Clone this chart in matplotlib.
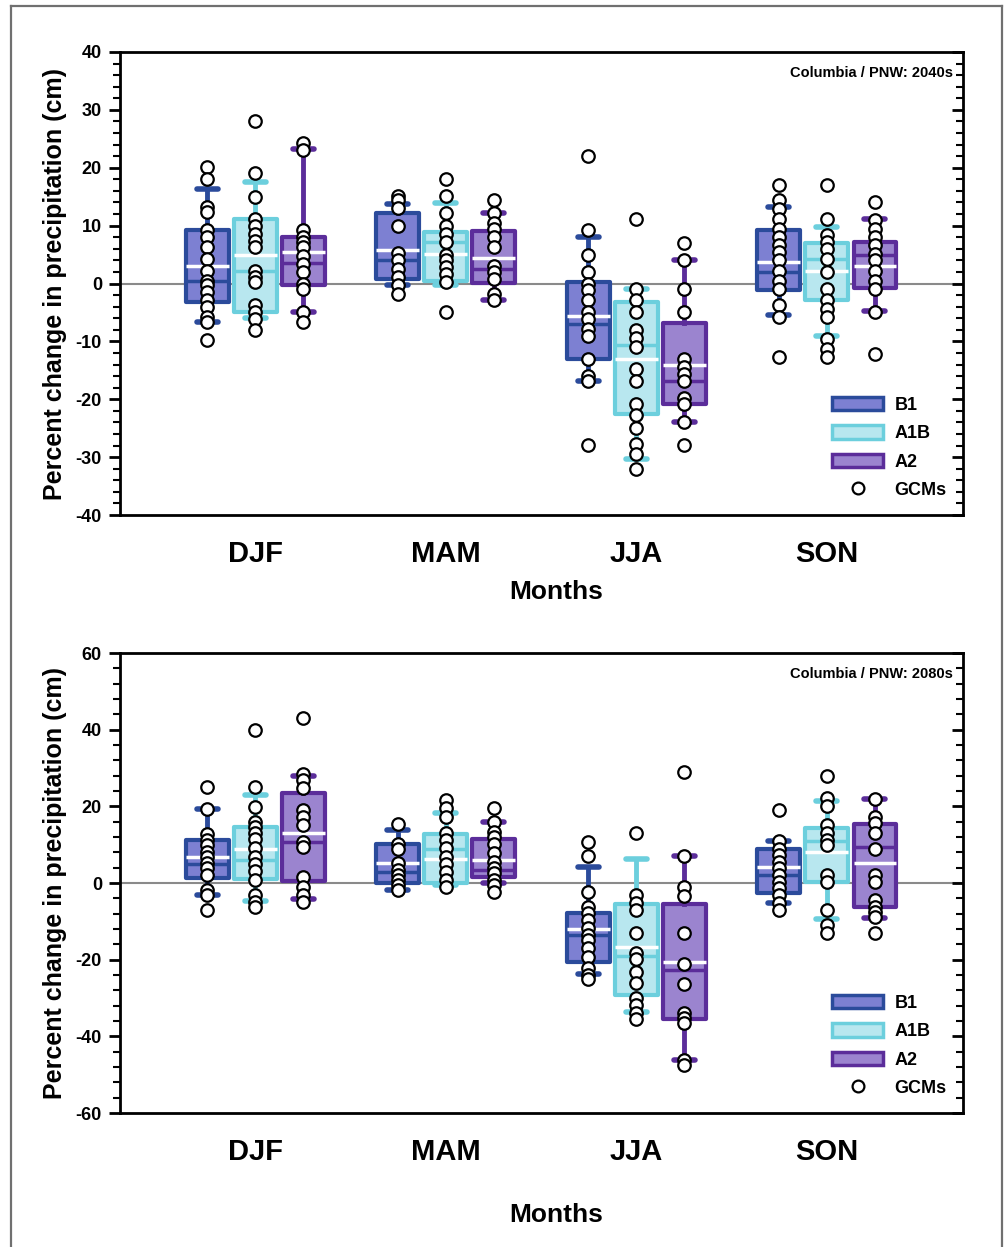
import matplotlib
matplotlib.use("Agg")
import matplotlib.pyplot as plt
from matplotlib.patches import Patch
from matplotlib.lines import Line2D
import numpy as np

plt.rcParams['font.family'] = ['Liberation Sans', 'DejaVu Sans']
plt.rcParams['font.weight'] = 'bold'
plt.rcParams['axes.unicode_minus'] = False

seasons = ["DJF", "MAM", "JJA", "SON"]
scenarios = ["B1", "A1B", "A2"]
edge_colors = {"B1": "#2b4b9b", "A1B": "#6ccfdd", "A2": "#5b2d9a"}
fill_colors = {"B1": "#7d80d2", "A1B": "#b8e7ef", "A2": "#9b84cf"}

# ---------------- 2040s ----------------
# box statistics per scenario, ordered DJF, MAM, JJA, SON
q1_2040 = {"B1": [-3.2, 0.8, -13.0, -1.2], "A1B": [-5.0, 0.5, -22.5, -2.9], "A2": [-0.3, 0.1, -20.8, -0.8]}
q3_2040 = {"B1": [9.2, 12.2, 0.2, 9.2], "A1B": [11.2, 8.9, -3.2, 7.0], "A2": [8.0, 9.0, -6.9, 7.1]}
med_2040 = {"B1": [0.5, 4.0, -7.0, 2.0], "A1B": [2.2, 7.1, -10.6, 4.3], "A2": [3.6, 2.5, -16.8, 5.0]}
mean_2040 = {"B1": [3.1, 5.8, -5.7, 3.7], "A1B": [5.0, 5.1, -13.0, 2.1], "A2": [5.4, 4.4, -14.0, 3.1]}
wlo_2040 = {"B1": [-6.6, -0.2, -16.8, -5.4], "A1B": [-6.0, -0.3, -30.3, -9.0], "A2": [-5.0, -2.9, -24.0, -4.8]}
whi_2040 = {"B1": [16.4, 13.7, 8.0, 13.3], "A1B": [17.5, 13.9, -0.9, 9.7], "A2": [23.2, 12.1, 4.0, 11.2]}

gcm_2040 = {
    "B1": [
        [20.1, 18.1, 13.2, 12.3, 9.2, 8.0, 6.3, 4.3, 2.2, 0.5, -0.3, -1.5, -2.9, -4.1, -5.8, -6.7, -9.7],
        [15.2, 14.4, 13.1, 10.0, 5.2, 4.0, 2.5, 1.2, -0.3, -1.8],
        [22.1, 9.2, 5.0, 2.0, -0.1, -1.2, -2.9, -5.0, -6.1, -7.8, -9.0, -13.0, -15.9, -16.9, -27.9],
        [17.1, 14.4, 12.9, 11.2, 9.5, 8.0, 6.6, 5.4, 4.0, 2.2, 0.5, -0.9, -3.8, -5.8, -12.7],
    ],
    "A1B": [
        [28.0, 19.1, 14.9, 11.2, 10.0, 8.6, 7.4, 6.3, 2.2, 1.1, 0.2, -3.8, -5.0, -6.1, -8.0],
        [18.1, 15.1, 12.2, 10.0, 8.6, 7.1, 5.0, 4.1, 2.8, 1.7, 0.2, -5.0],
        [11.1, -0.9, -2.9, -5.0, -8.0, -9.4, -11.0, -14.8, -16.8, -20.9, -22.8, -24.9, -27.7, -29.5, -32.0],
        [17.1, 11.1, 8.3, 7.1, 6.0, 4.3, 2.0, -0.9, -2.9, -4.4, -5.8, -9.6, -11.3, -12.7],
    ],
    "A2": [
        [24.3, 23.0, 9.2, 8.0, 7.1, 6.3, 4.8, 3.4, 2.0, 0.0, -0.9, -5.0, -6.7],
        [14.4, 12.2, 10.4, 9.5, 8.1, 6.3, 3.1, 2.0, 0.8, -1.8, -2.9],
        [7.0, 4.0, -0.9, -5.0, -13.0, -14.5, -15.7, -16.9, -19.7, -20.9, -24.0, -27.9],
        [14.1, 10.9, 9.5, 8.0, 6.6, 5.1, 4.0, 2.2, 0.5, -0.9, -5.0, -12.1],
    ],
}

# ---------------- 2080s ----------------
q1_2080 = {"B1": [1.2, -0.1, -20.5, -2.5], "A1B": [1.0, -0.1, -29.2, 0.3], "A2": [0.6, 1.6, -35.6, -6.3]}
q3_2080 = {"B1": [11.2, 10.2, -7.9, 9.0], "A1B": [14.7, 12.8, -5.5, 14.3], "A2": [23.6, 11.5, -5.5, 15.4]}
med_2080 = {"B1": [5.0, 3.0, -13.5, 2.0], "A1B": [6.0, 9.0, -19.0, 11.0], "A2": [10.8, 3.4, -22.7, 9.5]}
mean_2080 = {"B1": [6.9, 5.1, -12.1, 4.3], "A1B": [8.8, 6.3, -16.6, 8.2], "A2": [13.0, 6.0, -20.5, 5.1]}
wlo_2080 = {"B1": [-3.0, -1.8, -23.7, -5.1], "A1B": [-4.6, -0.5, -33.6, -9.5], "A2": [-4.2, 0.1, -46.2, -9.0]}
whi_2080 = {"B1": [19.2, 13.8, 4.1, 11.0], "A1B": [23.0, 18.2, 6.2, 21.5], "A2": [27.9, 16.0, 7.0, 21.9]}

gcm_2080 = {
    "B1": [
        [25.0, 19.2, 12.8, 11.2, 9.9, 8.2, 6.9, 5.3, 3.8, 2.1, -1.7, -3.1, -7.0],
        [15.4, 10.3, 9.0, 5.1, 3.4, 2.1, 0.8, -0.5, -1.7],
        [10.8, 7.0, -2.3, -6.2, -7.9, -9.7, -11.8, -13.6, -14.9, -17.0, -19.2, -22.3, -24.0, -25.1],
        [19.0, 11.0, 9.0, 7.3, 5.6, 3.8, 2.1, 0.3, -1.4, -3.1, -5.1, -7.0],
    ],
    "A1B": [
        [39.9, 25.0, 19.9, 16.0, 14.7, 13.0, 11.4, 9.1, 6.9, 5.0, 3.2, 0.8, -3.1, -4.9, -6.2],
        [21.7, 19.5, 17.3, 13.0, 11.2, 9.1, 6.9, 5.0, 3.0, 0.8, -1.1],
        [13.0, -3.1, -5.1, -7.0, -13.1, -18.3, -19.7, -23.1, -26.2, -30.1, -31.8, -34.0, -35.6],
        [28.0, 22.1, 20.1, 15.1, 13.0, 11.2, 9.9, 2.1, 0.3, -7.0, -11.0, -13.0],
    ],
    "A2": [
        [43.1, 28.4, 26.9, 24.7, 19.0, 17.3, 15.1, 10.8, 9.5, 1.6, -1.0, -3.1, -4.9],
        [19.5, 16.0, 13.4, 12.1, 10.3, 7.7, 5.6, 3.8, 2.5, 0.8, -0.5, -2.3],
        [29.0, 7.0, -1.1, -3.4, -13.1, -21.1, -26.3, -34.0, -35.3, -36.6, -46.2, -47.5],
        [21.9, 17.3, 15.6, 13.0, 9.0, 2.1, 0.3, -4.4, -6.2, -7.5, -8.9, -13.1],
    ],
}

titles = ["Columbia / PNW: 2040s", "Columbia / PNW: 2080s"]
ylims = [(-40, 40), (-60, 60)]
ymajor = [10, 20]
yminor = [2, 4]

offsets = {"B1": -0.252, "A1B": 0.0, "A2": 0.252}
box_w = 0.225

fig = plt.figure(figsize=(10.05, 12.47), dpi=100)

# outer frame (open at the bottom)
fw, fh = 1005.0, 1247.0
fig.add_artist(Line2D([11 / fw, 11 / fw], [0, 1 - 6 / fh], transform=fig.transFigure, color="#707070", lw=1.6))
fig.add_artist(Line2D([11 / fw, 1002 / fw], [1 - 6 / fh, 1 - 6 / fh], transform=fig.transFigure, color="#707070", lw=1.6))
fig.add_artist(Line2D([1002 / fw, 1002 / fw], [0, 1 - 6 / fh], transform=fig.transFigure, color="#707070", lw=1.6))

ax_rects = [
    [120 / fw, 1 - 515 / fh, 843 / fw, 463 / fh],
    [120 / fw, 1 - 1113 / fh, 843 / fw, 460 / fh],
]
panels = [
    (q1_2040, q3_2040, med_2040, mean_2040, wlo_2040, whi_2040, gcm_2040),
    (q1_2080, q3_2080, med_2080, mean_2080, wlo_2080, whi_2080, gcm_2080),
]
xlabel_pads = [9, 27]

for p, (q1, q3, med, mean, wlo, whi, gcm) in enumerate(panels):
    ax = fig.add_axes(ax_rects[p])
    ax.axhline(0, color="#8a8a8a", lw=1.5, zorder=1)
    for sc in scenarios:
        stats = []
        for i in range(4):
            stats.append(dict(q1=q1[sc][i], q3=q3[sc][i], med=med[sc][i], mean=mean[sc][i],
                              whislo=wlo[sc][i], whishi=whi[sc][i], fliers=[]))
        pos = np.arange(4) + offsets[sc]
        ec = edge_colors[sc]
        ax.bxp(stats, positions=pos, widths=box_w, patch_artist=True, showmeans=True, meanline=True,
               showfliers=False,
               boxprops=dict(facecolor=fill_colors[sc], edgecolor=ec, lw=3, joinstyle="round"),
               whiskerprops=dict(color=ec, lw=3.5),
               capprops=dict(color=ec, lw=4, solid_capstyle="round"),
               medianprops=dict(color=ec, lw=2.5),
               meanprops=dict(color="white", lw=2.5, linestyle="-"),
               capwidths=0.11, zorder=2)
        for i in range(4):
            vals = gcm[sc][i]
            ax.plot(np.full(len(vals), i + offsets[sc]), vals, "o", ms=9, mfc="white",
                    mec="black", mew=1.6, zorder=4, clip_on=False)

    ax.set_xlim(-0.709, 3.714)
    ax.set_ylim(*ylims[p])
    ax.set_xticks(range(4))
    ax.set_xticklabels(seasons, fontsize=21, fontweight="bold")
    ax.tick_params(axis="x", length=0, pad=18)
    ax.set_yticks(np.arange(ylims[p][0], ylims[p][1] + 1, ymajor[p]))
    ax.set_yticks(np.arange(ylims[p][0], ylims[p][1] + 1, yminor[p]), minor=True)
    ax.tick_params(axis="y", which="major", direction="out", length=8, width=2, labelsize=13, pad=5,
                   right=True)
    ax.tick_params(axis="y", which="minor", direction="out", length=5, width=1.5, right=True)
    for lab in ax.get_yticklabels():
        lab.set_fontweight("bold")
    for s in ax.spines.values():
        s.set_linewidth(2)
    # right-side ticks inward
    for t in ax.yaxis.get_major_ticks():
        t.tick2line.set_marker(matplotlib.lines.TICKLEFT)
    for t in ax.yaxis.get_minor_ticks():
        t.tick2line.set_marker(matplotlib.lines.TICKLEFT)

    ax.set_ylabel("Percent change in precipitation (cm)", fontsize=18, fontweight="bold", labelpad=6)
    ax.set_xlabel("Months", fontsize=19, fontweight="bold", labelpad=xlabel_pads[p])
    ax.xaxis.label.set_x(0.517)
    ax.text(0.988, 0.955, titles[p], transform=ax.transAxes, ha="right", va="center",
            fontsize=10.5, fontweight="bold")

    handles = [Patch(facecolor=fill_colors[sc], edgecolor=edge_colors[sc], lw=2.5) for sc in scenarios]
    handles.append(Line2D([], [], ls="none", marker="o", ms=8.5, mfc="white", mec="black", mew=1.6))
    leg = ax.legend(handles, scenarios + ["GCMs"], loc="lower right", frameon=False,
                    prop=dict(size=13, weight="bold"), handlelength=2.8, handleheight=0.75,
                    labelspacing=0.62, borderaxespad=0.5, handletextpad=0.65)

fig.savefig("out.png", dpi=100)
